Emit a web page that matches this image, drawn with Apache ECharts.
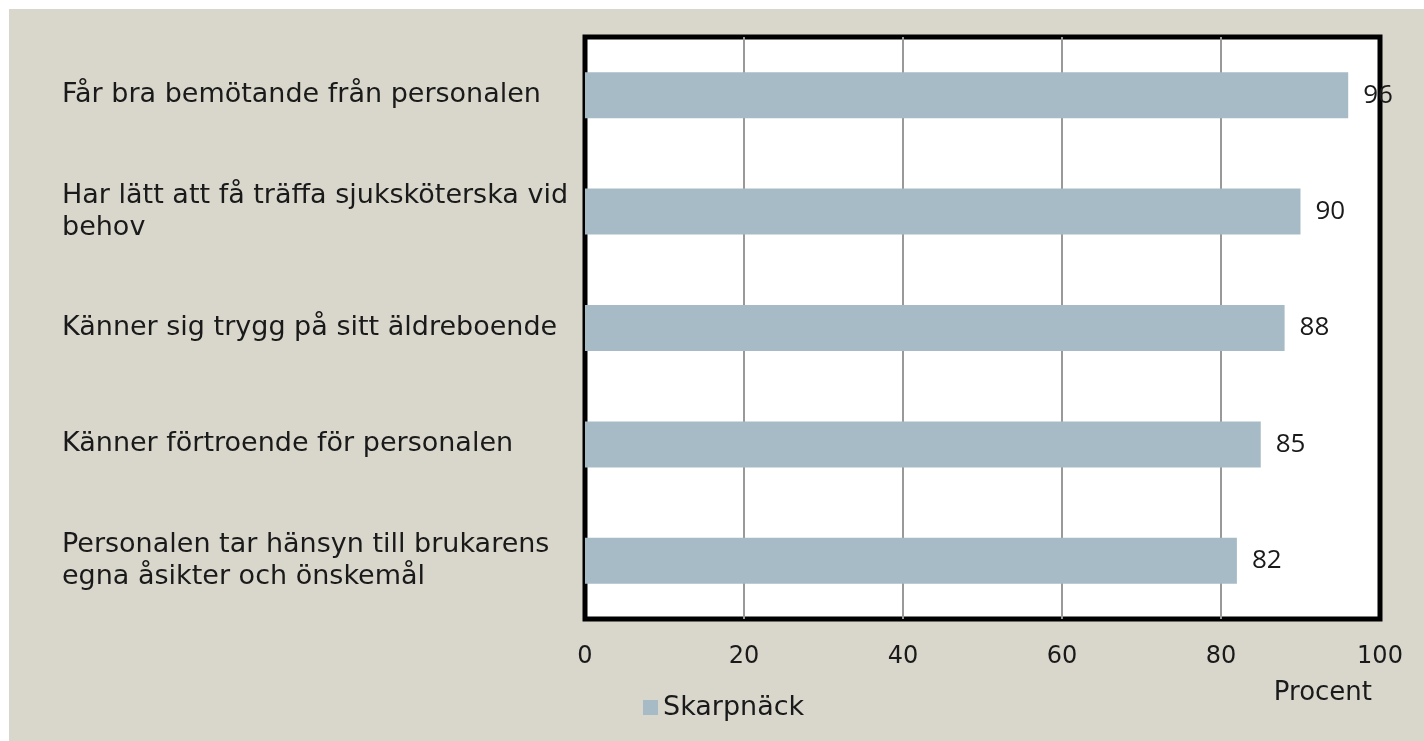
<!DOCTYPE html>
<html>
<head>
<meta charset="utf-8">
<script src="https://cdn.jsdelivr.net/npm/echarts@6/dist/echarts.min.js"></script>
<style>
html,body{margin:0;padding:0;background:#ffffff;}
#chart{position:absolute;left:9px;top:9px;width:1415px;height:732px;}
</style>
</head>
<body>
<div id="chart"></div>
<script>
const categories = [
  "Personalen tar hänsyn till brukarens\negna åsikter och önskemål",
  "Känner förtroende för personalen",
  "Känner sig trygg på sitt äldreboende",
  "Har lätt att få träffa sjuksköterska vid\nbehov",
  "Får bra bemötande från personalen"
];
const seriesName = "Skarpnäck";
const values = [82, 85, 88, 90, 96];
const axisTitle = "Procent";

const chart = echarts.init(document.getElementById('chart'));
const labelFont = "DejaVu Sans";
chart.setOption({
  backgroundColor: '#d9d7cc',
  animation: false,
  grid: {
    left: 576, right: 44, top: 28, bottom: 122,
    show: true, backgroundColor: '#ffffff', borderColor: '#000000', borderWidth: 5
  },
  legend: {
    left: 629, top: 680, itemWidth: 15, itemHeight: 15, itemGap: 8,
    icon: 'rect',
    textStyle: {fontFamily: labelFont, fontSize: 27, color: '#1a1a1a'},
    data: [seriesName]
  },
  xAxis: {
    type: 'value', min: 0, max: 100, interval: 20,
    name: axisTitle, nameLocation: 'end', nameGap: -8,
    nameTextStyle: {fontFamily: labelFont, fontSize: 26, color: '#1a1a1a', align: 'right', verticalAlign: 'top', padding: [61, 0, 0, 0]},
    axisLine: {show: false}, axisTick: {show: false},
    axisLabel: {fontFamily: labelFont, fontSize: 24, color: '#1a1a1a', margin: 26},
    splitLine: {show: true, showMinLine: false, showMaxLine: false, lineStyle: {color: '#999999', width: 2}}
  },
  yAxis: {
    type: 'category', data: categories,
    axisLine: {show: false}, axisTick: {show: false},
    splitLine: {show: false},
    axisLabel: {fontFamily: labelFont, fontSize: 27, color: '#1a1a1a', align: 'left', margin: 523, lineHeight: 32}
  },
  series: [{
    name: seriesName, type: 'bar', data: values, barWidth: 46,
    itemStyle: {color: '#a7bbc6'},
    label: {show: true, position: 'right', distance: 15, fontFamily: 'Open Sans', fontSize: 26, color: '#1a1a1a'}
  }]
});
</script>
</body>
</html>
